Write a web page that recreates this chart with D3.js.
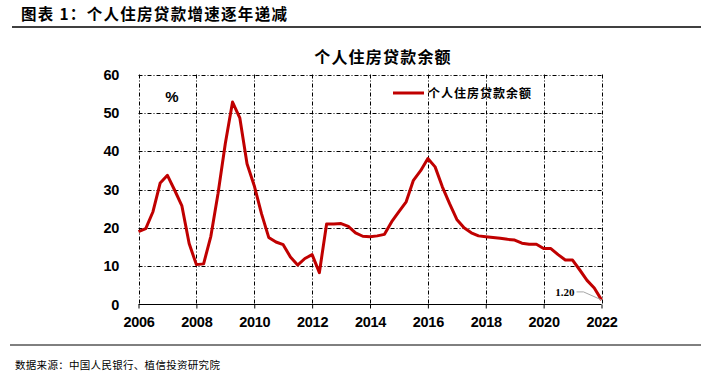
<!DOCTYPE html>
<html>
<head>
<meta charset="utf-8">
<script src="https://cdn.jsdelivr.net/npm/d3@7"></script>
<style>
    body { margin: 0; background: #fff; }
    svg { display: block; }
    .cjk { font-family: "Noto Sans CJK SC", sans-serif; }
    .num { font-family: "Liberation Sans", Arial, sans-serif; font-weight: bold; }
</style>
</head>
<body>
<svg id="chart" width="709" height="373"></svg>
<script>
// quarter ends, 2006Q1 .. 2022Q1
const quarters = [
    '2006Q1', '2006Q2', '2006Q3', '2006Q4',
    '2007Q1', '2007Q2', '2007Q3', '2007Q4',
    '2008Q1', '2008Q2', '2008Q3', '2008Q4',
    '2009Q1', '2009Q2', '2009Q3', '2009Q4',
    '2010Q1', '2010Q2', '2010Q3', '2010Q4',
    '2011Q1', '2011Q2', '2011Q3', '2011Q4',
    '2012Q1', '2012Q2', '2012Q3', '2012Q4',
    '2013Q1', '2013Q2', '2013Q3', '2013Q4',
    '2014Q1', '2014Q2', '2014Q3', '2014Q4',
    '2015Q1', '2015Q2', '2015Q3', '2015Q4',
    '2016Q1', '2016Q2', '2016Q3', '2016Q4',
    '2017Q1', '2017Q2', '2017Q3', '2017Q4',
    '2018Q1', '2018Q2', '2018Q3', '2018Q4',
    '2019Q1', '2019Q2', '2019Q3', '2019Q4',
    '2020Q1', '2020Q2', '2020Q3', '2020Q4',
    '2021Q1', '2021Q2', '2021Q3', '2021Q4',
    '2022Q1'
];

// 个人住房贷款余额 同比增速 %
const loanGrowth = [
    19.0, 19.8, 24.2, 31.7,
    33.7, 29.8, 25.7, 15.9,
    10.4, 10.6, 17.8, 29.0,
    42.0, 52.8, 48.7, 36.7,
    31.0, 23.7, 17.5, 16.3,
    15.6, 12.4, 10.3, 12.0,
    13.0, 8.3, 21.0, 21.0,
    21.1, 20.4, 18.7, 17.8,
    17.7, 17.9, 18.3, 21.6,
    24.2, 26.8, 32.4, 34.9,
    38.1, 35.9, 30.7, 26.3,
    22.2, 20.0, 18.7, 17.9,
    17.7, 17.5, 17.3, 17.0,
    16.8, 16.0, 15.7, 15.7,
    14.6, 14.6, 13.0, 11.6,
    11.6, 9.0, 6.3, 4.3,
    1.2
];

const xTicks = [2006, 2008, 2010, 2012, 2014, 2016, 2018, 2020, 2022];
const yTicks = [0, 10, 20, 30, 40, 50, 60];

const svg = d3.select('#chart');

// '2009Q2' -> 2009.25, first quarter sits on the year tick like the original
const toYear = q => +q.slice(0, 4) + (+q.slice(5) - 1) / 4;

const x = d3.scaleLinear().domain([2006, 2022]).range([138.5, 601.5]);
const y = d3.scaleLinear().domain([0, 60]).range([304.5, 74.5]);

// header and footer rules
svg.append('text')
    .attr('class', 'cjk')
    .attr('x', 21).attr('y', 20)
    .attr('font-size', 15.5).attr('font-weight', 'bold')
    .attr('letter-spacing', 1.3)
    .text('图表 1：个人住房贷款增速逐年递减');
svg.append('line')
    .attr('x1', 12).attr('x2', 701).attr('y1', 27).attr('y2', 27)
    .attr('stroke', '#000').attr('stroke-width', 1.5);
svg.append('line')
    .attr('x1', 10).attr('x2', 701).attr('y1', 345).attr('y2', 345)
    .attr('stroke', '#000').attr('stroke-width', 1);
svg.append('text')
    .attr('class', 'cjk')
    .attr('x', 15).attr('y', 369)
    .attr('font-size', 10.5)
    .attr('letter-spacing', 0.3)
    .text('数据来源：中国人民银行、植信投资研究院');

// chart title
svg.append('text')
    .attr('class', 'cjk')
    .attr('x', 383).attr('y', 63)
    .attr('text-anchor', 'middle')
    .attr('font-size', 16).attr('font-weight', 'bold')
    .attr('letter-spacing', 1.2)
    .text('个人住房贷款余额');

// grid, dash-dot like excel
const grid = svg.append('g')
    .attr('stroke', '#000').attr('stroke-width', 1)
    .attr('stroke-dasharray', '4,2,1,2');
grid.selectAll('line.h')
    .data(yTicks.filter(d => d > 0))
    .join('line').attr('class', 'h')
    .attr('x1', x(2006)).attr('x2', x(2022))
    .attr('y1', d => Math.round(y(d)) + 0.5).attr('y2', d => Math.round(y(d)) + 0.5);
grid.selectAll('line.v')
    .data(xTicks)
    .join('line').attr('class', 'v')
    .attr('x1', d => Math.round(x(d)) + 0.5).attr('x2', d => Math.round(x(d)) + 0.5)
    .attr('y1', y(60)).attr('y2', y(0));

// x axis
const xAxis = svg.append('g')
    .attr('transform', `translate(0,${y(0)})`)
    .call(d3.axisBottom(x).tickValues(xTicks).tickFormat(d3.format('d'))
        .tickSize(4).tickPadding(8));
xAxis.select('.domain').attr('stroke', '#000').attr('d', `M${x(2006)},0H${x(2022)}`);
xAxis.selectAll('.tick line').attr('stroke', '#000');
xAxis.selectAll('.tick text')
    .attr('class', 'num').attr('font-size', 14.5).attr('fill', '#000')
    .attr('letter-spacing', -0.3);

// y labels only, no axis line
const yAxis = svg.append('g')
    .attr('transform', `translate(${x(2006)},0)`)
    .call(d3.axisLeft(y).tickValues(yTicks).tickSize(0).tickPadding(19.5));
yAxis.select('.domain').remove();
yAxis.selectAll('.tick text')
    .attr('class', 'num').attr('font-size', 14.5).attr('fill', '#000')
    .attr('letter-spacing', -0.3);

svg.append('text')
    .attr('class', 'num')
    .attr('x', 172).attr('y', 102)
    .attr('text-anchor', 'middle')
    .attr('font-size', 15)
    .text('%');

// the series
const line = d3.line()
    .x((d, i) => x(toYear(quarters[i])))
    .y(d => y(d));
svg.append('path')
    .datum(loanGrowth)
    .attr('fill', 'none')
    .attr('stroke', '#C00000')
    .attr('stroke-width', 3)
    .attr('stroke-linejoin', 'round')
    .attr('d', line);

// last value label with leader
const lastQ = quarters[quarters.length - 1];
const lastV = loanGrowth[loanGrowth.length - 1];
svg.append('path')
    .attr('fill', 'none').attr('stroke', '#a6a6a6').attr('stroke-width', 1)
    .attr('d', `M${x(toYear(lastQ)) - 25},${y(lastV) - 8}H${x(toYear(lastQ)) - 18}L${x(toYear(lastQ))},${y(lastV)}`);
svg.append('text')
    .attr('font-family', 'Liberation Serif, serif').attr('font-weight', 'bold')
    .attr('x', x(toYear(lastQ)) - 27).attr('y', y(lastV) - 4)
    .attr('text-anchor', 'end')
    .attr('font-size', 11)
    .text(lastV.toFixed(2));

// legend
const legend = svg.append('g').attr('transform', 'translate(393,93)');
legend.append('line')
    .attr('x1', 0).attr('x2', 31)
    .attr('stroke', '#C00000').attr('stroke-width', 3);
legend.append('text')
    .attr('class', 'cjk')
    .attr('x', 35).attr('y', 4.5)
    .attr('font-size', 12).attr('font-weight', 'bold')
    .attr('letter-spacing', 1)
    .text('个人住房贷款余额');
</script>
</body>
</html>
